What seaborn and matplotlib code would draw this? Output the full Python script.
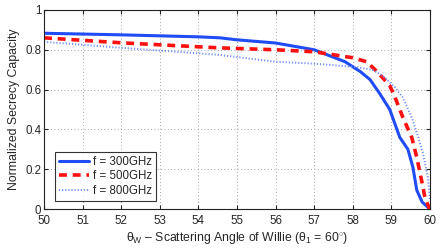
import matplotlib
matplotlib.use("Agg")
import matplotlib.pyplot as plt
import seaborn as sns
import pandas as pd
import numpy as np

x300 = [50, 52, 54, 54.56, 55, 56, 57, 57.8, 58.2, 58.45, 58.7, 58.96, 59.22, 59.43, 59.56, 59.66, 59.8, 60]
y300 = [0.883, 0.875, 0.865, 0.86, 0.85, 0.834, 0.80, 0.74, 0.69, 0.65, 0.58, 0.50, 0.36, 0.30, 0.21, 0.095, 0.035, 0.0]
x500 = [50, 52, 54.5, 56, 57, 57.5, 58, 58.36, 58.58, 58.75, 58.96, 59.1, 59.3, 59.53, 59.66, 59.8, 59.87, 59.97, 60]
y500 = [0.86, 0.835, 0.81, 0.80, 0.79, 0.775, 0.76, 0.74, 0.70, 0.665, 0.62, 0.56, 0.46, 0.36, 0.26, 0.13, 0.06, 0.01, 0.0]
x800 = [50, 52, 54.5, 56, 57, 58, 58.5, 58.78, 59.1, 59.3, 59.53, 59.7, 59.82, 59.95, 60]
y800 = [0.84, 0.81, 0.775, 0.74, 0.73, 0.715, 0.70, 0.67, 0.61, 0.56, 0.46, 0.36, 0.28, 0.16, 0.05]
labels = ["f = 300GHz", "f = 500GHz", "f = 800GHz"]

sns.set_style("ticks")
plt.rcParams['font.family'] = ['Liberation Sans', 'DejaVu Sans']
plt.rcParams['mathtext.fontset'] = 'custom'
plt.rcParams['mathtext.rm'] = 'Liberation Sans'
plt.rcParams['mathtext.it'] = 'Liberation Sans'

fig = plt.figure(figsize=(4.4, 2.49), dpi=100)
ax = fig.add_axes([0.1, 0.1606, 0.877, 0.7994])

df = pd.concat([
    pd.DataFrame({"x": x300, "y": y300, "f": labels[0]}),
    pd.DataFrame({"x": x500, "y": y500, "f": labels[1]}),
    pd.DataFrame({"x": x800, "y": y800, "f": labels[2]}),
])
styles = [("#1f4cf5", "-", 2.2), ("#ff1010", (0, (2.2, 1.6)), 2.6), ("#6f8cff", (0, (0.6, 1.0)), 1.4)]
for lab, (c, ls, lw) in zip(labels, styles):
    sub = df[df["f"] == lab]
    sns.lineplot(data=sub, x="x", y="y", ax=ax, color=c, linestyle=ls, linewidth=lw, label=lab)

ax.set_xlim(50, 60)
ax.set_ylim(0, 1)
ax.set_xticks(np.arange(50, 61, 1))
ax.set_yticks([0, 0.2, 0.4, 0.6, 0.8, 1])
ax.set_yticklabels(["0", "0.2", "0.4", "0.6", "0.8", "1"])
ax.grid(True, linestyle=(0, (1, 3)), color="#8a8a8a", linewidth=0.6)
ax.tick_params(direction="in", labelsize=8.3, length=3, top=True, right=True)
ax.tick_params(axis="x", pad=4.5)
ax.tick_params(axis="y", pad=2)
for s in ax.spines.values():
    s.set_linewidth(0.8)
    s.set_color("#222222")
ax.set_xlabel(r"$\theta_W$ – Scattering Angle of Willie ($\theta_1$ = 60$^{\circ}$)", fontsize=8.8, labelpad=2)
ax.set_ylabel("Normalized Secrecy Capacity", fontsize=8.8, labelpad=4)
leg = ax.legend(loc="lower left", bbox_to_anchor=(0.022, 0.03), fontsize=8.3, frameon=True,
                fancybox=False, edgecolor="black", handlelength=2.65, borderpad=0.35,
                labelspacing=0.2, handletextpad=0.3, borderaxespad=0.2)
leg.get_frame().set_linewidth(0.8)
fig.savefig("out.png", dpi=100)
